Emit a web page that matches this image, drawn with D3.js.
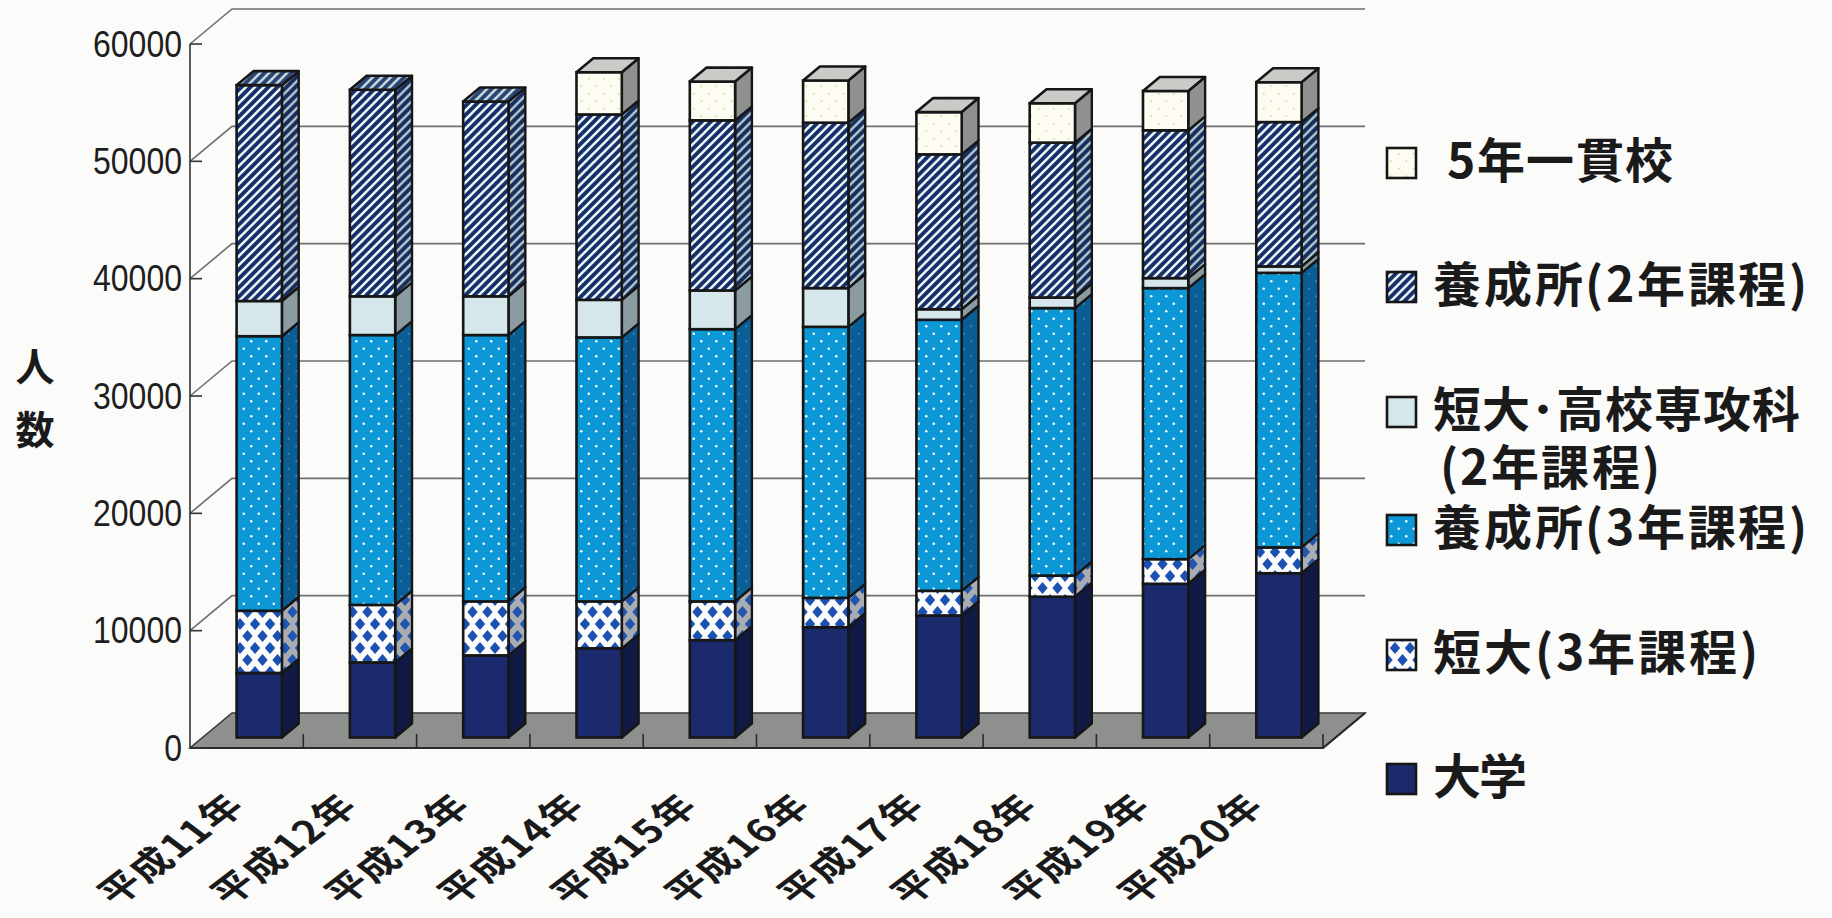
<!DOCTYPE html>
<html>
<head>
<meta charset="utf-8">
<script src="https://cdn.jsdelivr.net/npm/d3@7"></script>
<style>
  @font-face {
    font-family: "LegendJP";
    src: local("Noto Sans CJK JP Bold"), local("NotoSansCJKjp-Bold"), local("Noto Sans CJK JP");
    font-weight: 700;
    ascent-override: 90%;
    descent-override: 12%;
    line-gap-override: 0%;
  }
  html, body { margin: 0; padding: 0; background: #fbfbfa; }
  svg { display: block; }
</style>
</head>
<body>
<svg id="chart" width="1832" height="918"></svg>
<script>
// ---- data (人数) ----
const categories = ["平成11年", "平成12年", "平成13年", "平成14年", "平成15年",
                    "平成16年", "平成17年", "平成18年", "平成19年", "平成20年"];
const daigaku    = [5500, 6400, 7000, 7600, 8300, 9400, 10400, 12000, 13100, 14000];   // 大学
const tandai3    = [5300, 4900, 4600, 4000, 3300, 2500, 2100, 1800, 2100, 2200];        // 短大(3年課程)
const yoseijo3   = [23400, 23000, 22700, 22500, 23200, 23100, 23100, 22800, 23100, 23400]; // 養成所(3年課程)
const senkouka2  = [3000, 3300, 3300, 3200, 3300, 3300, 900, 900, 850, 550];           // 短大・高校専攻科(2年課程)
const yoseijo2   = [18400, 17600, 16600, 15800, 14500, 14100, 13200, 13200, 12600, 12300]; // 養成所(2年課程)
const ikkan5     = [0, 0, 0, 3600, 3300, 3600, 3600, 3350, 3350, 3400];                 // 5年一貫校

const seriesKeys = ["daigaku", "tandai3", "yoseijo3", "senkouka2", "yoseijo2", "ikkan5"];
const seriesValues = { daigaku, tandai3, yoseijo3, senkouka2, yoseijo2, ikkan5 };
const legendLabels = {
  ikkan5: ["5年一貫校"],
  yoseijo2: ["養成所(2年課程)"],
  senkouka2: ["短大･高校専攻科", "(2年課程)"],
  yoseijo3: ["養成所(3年課程)"],
  tandai3: ["短大(3年課程)"],
  daigaku: ["大学"]
};
const yTicks = [0, 10000, 20000, 30000, 40000, 50000, 60000];
const yTitle = ["人", "数"];

// ---- layout ----
const svg = d3.select("#chart");
const plotLeft = 190, plotRight = 1323, plotBase = 748, plotTop = 44;
const DX = 42, DY = -35;            // full depth of the 3D box
const D0 = 0.3, D1 = 0.7;           // bars sit in the middle of the depth

const x = d3.scaleBand().domain(categories).range([plotLeft, plotRight])
  .paddingInner(0.6).paddingOuter(0.3);
const y = d3.scaleLinear().domain([0, 60000]).range([plotBase, plotTop]);
const P = (xf, v, d) => [xf + d * DX, y(v) + d * DY];

const rows = categories.map((c, i) => {
  const r = { cat: c };
  seriesKeys.forEach(k => r[k] = seriesValues[k][i]);
  return r;
});
const stacked = d3.stack().keys(seriesKeys)(rows);

// ---- patterns ----
const defs = svg.append("defs");
function stripe(id, bg, fg) {
  const p = defs.append("pattern").attr("id", id).attr("patternUnits", "userSpaceOnUse")
    .attr("width", 9).attr("height", 9);
  p.append("rect").attr("width", 9).attr("height", 9).attr("fill", bg);
  p.append("path").attr("d", "M-2,2 L2,-2 M0,9 L9,0 M7,11 L11,7")
    .attr("stroke", fg).attr("stroke-width", 2.6);
}
function dots(id, bg, fg, r) {
  const p = defs.append("pattern").attr("id", id).attr("patternUnits", "userSpaceOnUse")
    .attr("width", 15).attr("height", 15);
  p.append("rect").attr("width", 15).attr("height", 15).attr("fill", bg);
  [[3.75, 3.75], [11.25, 11.25]].forEach(([cx, cy]) =>
    p.append("circle").attr("cx", cx).attr("cy", cy).attr("r", r).attr("fill", fg));
}
function diamonds(id, bg, fg) {
  const p = defs.append("pattern").attr("id", id).attr("patternUnits", "userSpaceOnUse")
    .attr("width", 15).attr("height", 24);
  p.append("rect").attr("width", 15).attr("height", 24).attr("fill", bg);
  const hw = 5.2, hh = 6.0;
  [[0, 0], [15, 0], [0, 24], [15, 24], [7.5, 12]].forEach(([cx, cy]) =>
    p.append("path").attr("d", `M${cx - hw},${cy} L${cx},${cy - hh} L${cx + hw},${cy} L${cx},${cy + hh} Z`)
      .attr("fill", fg));
}
stripe("p-y2-front", "#15306b", "#eef5f6");
stripe("p-y2-side", "#1b2d5e", "#a6c1c8");
stripe("p-y2-top", "#2a4474", "#c4d7db");
dots("p-y3-front", "#0c97d6", "#ffffff", 1.25);
dots("p-y3-side", "#0a5e95", "#3f88ba", 1.1);
diamonds("p-t3-front", "#fbfbfb", "#1b52b2");
diamonds("p-t3-side", "#a9acb1", "#2255ae");
dots("p-i5-front", "#fdfcf3", "#e6db98", 1.1);
dots("p-i5-top", "#c9cbc8", "#d9d4a8", 1.0);

const faceFill = {
  daigaku:   { front: "#1b2a6d", side: "#111a45", top: "#2a3a80" },
  tandai3:   { front: "url(#p-t3-front)", side: "url(#p-t3-side)", top: "url(#p-t3-side)" },
  yoseijo3:  { front: "url(#p-y3-front)", side: "url(#p-y3-side)", top: "url(#p-y3-side)" },
  senkouka2: { front: "#d5e7eb", side: "#8a9ba1", top: "#b7c9cd" },
  yoseijo2:  { front: "url(#p-y2-front)", side: "url(#p-y2-side)", top: "url(#p-y2-top)" },
  ikkan5:    { front: "url(#p-i5-front)", side: "#8f9190", top: "url(#p-i5-top)" }
};

const ink = "#161616";
const line = d3.line();

// ---- walls: gridlines on the back wall and the left wall ----
const grid = svg.append("g");
yTicks.forEach(t => {
  if (t === 0) return;
  const a = P(plotLeft, t, 0), b = P(plotLeft, t, 1), c = P(plotRight, t, 1);
  grid.append("path").attr("d", line([a, b, c])).attr("fill", "none")
    .attr("stroke", "#6f6f6f").attr("stroke-width", 1.6);
});

// ---- floor ----
const floorPts = [P(plotLeft, 0, 0), P(plotRight, 0, 0), P(plotRight, 0, 1), P(plotLeft, 0, 1)];
svg.append("path").attr("d", line(floorPts) + "Z")
  .attr("fill", "#8e908d").attr("stroke", "#3a3a3a").attr("stroke-width", 1.6);
svg.append("path").attr("d", line([P(plotLeft, 0, 0), P(plotRight, 0, 0), P(plotRight, 0, 1)]))
  .attr("fill", "none").attr("stroke", "#2a2a2a").attr("stroke-width", 2.2);
// category tick marks on the floor edge
const step = x.step();
d3.range(1, categories.length + 1).forEach(k => {
  const xf = plotLeft + k * step;
  svg.append("line").attr("x1", xf).attr("x2", xf).attr("y1", plotBase).attr("y2", plotBase - 14)
    .attr("stroke", "#2a2a2a").attr("stroke-width", 1.6);
});

// ---- value axis ----
svg.append("line").attr("x1", plotLeft).attr("x2", plotLeft)
  .attr("y1", y(0)).attr("y2", y(60000)).attr("stroke", "#333").attr("stroke-width", 1.6);
const yAxis = svg.append("g");
yTicks.forEach(t => {
  yAxis.append("line").attr("x1", plotLeft).attr("x2", plotLeft + 12)
    .attr("y1", y(t)).attr("y2", y(t)).attr("stroke", "#333").attr("stroke-width", 1.6);
  const s = String(t);
  yAxis.append("text").attr("x", plotLeft - 8).attr("y", y(t))
    .attr("text-anchor", "end").attr("dominant-baseline", "central")
    .attr("font-family", "'Liberation Sans Narrow', 'Liberation Sans', Arial, sans-serif")
    .attr("font-size", 37).attr("fill", "#1e1e1e")
    .attr("textLength", s.length * 17.8).attr("lengthAdjust", "spacingAndGlyphs")
    .text(s);
});

// ---- bars ----
const bw = x.bandwidth();
const bdx = (D1 - D0) * DX, bdy = (D1 - D0) * DY;
const bars = svg.append("g");
categories.forEach((cat, i) => {
  const g = bars.append("g");
  const x0 = x(cat) + D0 * DX;
  let topSeg = null;
  stacked.forEach(s => {
    const d = s[i];
    if (d[1] - d[0] <= 0) return;
    const yt = y(d[1]) + D0 * DY, yb = y(d[0]) + D0 * DY;
    const f = faceFill[s.key];
    g.append("path")
      .attr("d", line([[x0 + bw, yt], [x0 + bw + bdx, yt + bdy], [x0 + bw + bdx, yb + bdy], [x0 + bw, yb]]) + "Z")
      .attr("fill", f.side).attr("stroke", ink).attr("stroke-width", 2.4).attr("stroke-linejoin", "round");
    g.append("rect").attr("x", x0).attr("y", yt).attr("width", bw).attr("height", yb - yt)
      .attr("fill", f.front).attr("stroke", ink).attr("stroke-width", 2.6);
    topSeg = { key: s.key, yt };
  });
  if (topSeg) {
    const yt = topSeg.yt;
    g.append("path")
      .attr("d", line([[x0, yt], [x0 + bw, yt], [x0 + bw + bdx, yt + bdy], [x0 + bdx, yt + bdy]]) + "Z")
      .attr("fill", faceFill[topSeg.key].top).attr("stroke", ink).attr("stroke-width", 2.6)
      .attr("stroke-linejoin", "round");
  }
});

// ---- category labels (wide, slanted lettering) ----
const xLabels = svg.append("g");
categories.forEach(cat => {
  const cx = x(cat) + bw / 2, cy = 808;
  xLabels.append("text")
    .attr("transform", `translate(${cx},${cy}) scale(1.32,1) rotate(-45)`)
    .attr("text-anchor", "end")
    .attr("font-family", "LegendJP, 'Noto Sans CJK JP', sans-serif").attr("font-weight", 700)
    .attr("font-size", 32).attr("letter-spacing", 1.5).attr("fill", "#1a1a1a")
    .text(cat);
});

// ---- axis title ----
yTitle.forEach((ch, k) => {
  svg.append("text").attr("x", 35).attr("y", 364 + k * 63)
    .attr("text-anchor", "middle").attr("dominant-baseline", "central")
    .attr("font-family", "'Noto Sans CJK JP', sans-serif").attr("font-weight", 700)
    .attr("font-size", 39).attr("fill", "#1a1a1a").text(ch);
});

// ---- legend ----
const legendOrder = ["ikkan5", "yoseijo2", "senkouka2", "yoseijo3", "tandai3", "daigaku"];
const legendY = [161, 285, 410, 528, 653, 777];
const legendLen = { ikkan5: [226], yoseijo2: [374], senkouka2: [367, 220], yoseijo3: [374], tandai3: [325], daigaku: [94] };
const legend = svg.append("g");
legendOrder.forEach((k, j) => {
  const cy = legendY[j];
  legend.append("rect").attr("x", 1387).attr("y", cy - 13).attr("width", 29).attr("height", 30)
    .attr("fill", faceFill[k].front).attr("stroke", ink).attr("stroke-width", 2.6);
  legendLabels[k].forEach((t, m) => {
    const tx = k === "ikkan5" ? 1447 : (m === 1 ? 1440 : 1433);
    legend.append("text").attr("x", tx).attr("y", cy + m * 58 + 17)
      .attr("font-family", "LegendJP, 'Noto Sans CJK JP', sans-serif").attr("font-weight", 700)
      .attr("font-size", 48).attr("fill", "#1a1a1a")
      .attr("textLength", legendLen[k][m]).attr("lengthAdjust", "spacing")
      .text(t);
  });
});
</script>
</body>
</html>
